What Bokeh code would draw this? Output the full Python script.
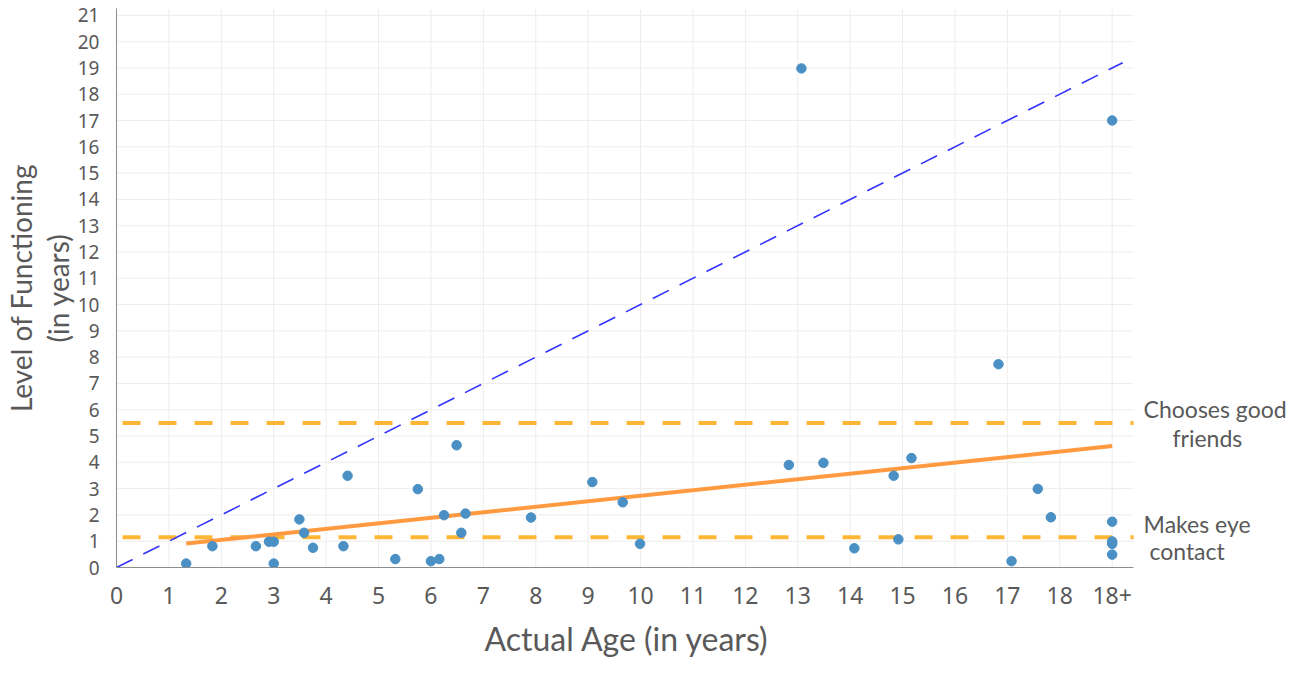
from bokeh.plotting import figure
from bokeh.models import Label, FixedTicker, Range1d, Title
from bokeh.embed import file_html
from bokeh.resources import INLINE

# ---- data ----
age = [1.33, 1.83, 2.66, 2.91, 3.0, 3.0, 3.49, 3.58, 3.75, 4.33, 4.41, 5.32, 5.75,
       6.0, 6.16, 6.25, 6.49, 6.58, 6.66, 7.91, 9.08, 9.66, 9.99, 12.83, 13.07,
       13.49, 14.08, 14.83, 14.92, 15.17, 16.83, 17.08, 17.58, 17.83,
       19.0, 19.0, 19.0, 19.0, 19.0]
functioning = [0.15, 0.81, 0.81, 0.98, 0.98, 0.15, 1.83, 1.32, 0.75, 0.81, 3.49, 0.32, 2.98,
               0.24, 0.32, 1.99, 4.65, 1.32, 2.05, 1.9, 3.25, 2.48, 0.9, 3.9, 18.98,
               3.98, 0.73, 3.49, 1.07, 4.16, 7.73, 0.24, 2.99, 1.91,
               17.0, 1.74, 0.99, 0.9, 0.49]
trend_x = [1.33, 19.0]
trend_y = [0.91, 4.62]
diag_x = [0.0, 19.2]
diag_y = [0.0, 19.2]
milestone_y = [5.5, 1.15]
milestone_lines = [["Chooses good", "friends"], ["Makes eye", "contact"]]
x_ticks = list(range(0, 20))
x_tick_labels = [str(i) for i in range(0, 19)] + ["18+"]
y_ticks = list(range(0, 22))
x_title = "Actual Age (in years)"
y_title = "Level of Functioning\n(in years)"

# ---- layout constants ----
X_MAX = 19.41      # right end of the plotting area (grid / axis)
Y_MAX = 21.26
GRAY = "#595959"

p = figure(width=1293, height=668, output_backend="svg", toolbar_location=None,
           x_range=Range1d(0, 22.46), y_range=Range1d(0, Y_MAX),
           min_border_left=116, min_border_right=0, min_border_top=8,
           min_border_bottom=101)
p.outline_line_color = None
p.background_fill_color = "white"
p.xgrid.visible = False
p.ygrid.visible = False

# grid lines limited to the data area
p.segment(x0=x_ticks, y0=[0] * len(x_ticks), x1=x_ticks, y1=[Y_MAX] * len(x_ticks),
          line_color="#ededed", line_width=1)
p.segment(x0=[0] * len(y_ticks), y0=y_ticks, x1=[X_MAX] * len(y_ticks), y1=y_ticks,
          line_color="#ededed", line_width=1)

p.xaxis.ticker = FixedTicker(ticks=x_ticks)
p.xaxis.major_label_overrides = {t: l for t, l in zip(x_ticks, x_tick_labels)}
p.xaxis.bounds = (0, X_MAX)
p.yaxis.ticker = FixedTicker(ticks=y_ticks)

for ax in (p.xaxis, p.yaxis):
    ax.major_tick_line_color = None
    ax.minor_tick_line_color = None
    ax.axis_line_color = "#8c8c8c"
    ax.major_label_text_font = "Noto Sans"
    ax.major_label_text_color = GRAY
    ax.axis_label_text_font = "Lato"
    ax.axis_label_text_font_style = "normal"
    ax.axis_label_text_color = GRAY

p.xaxis.major_label_text_font_size = "23px"
p.yaxis.major_label_text_font_size = "19px"
p.xaxis.major_label_standoff = 13
p.yaxis.major_label_standoff = 11
p.yaxis.axis_label = y_title
p.yaxis.axis_label_text_font_size = "28px"
p.yaxis.axis_label_text_line_height = 1.07
p.yaxis.axis_label_standoff = 0

# x-axis title, shifted to sit under the data area
p.add_layout(Title(text=x_title, align="left", offset=368, standoff=20,
                   text_font="Lato", text_font_size="32px", text_font_style="normal",
                   text_color=GRAY), "below")

# milestone lines
for yv in milestone_y:
    p.line([0, X_MAX], [yv, yv], line_color="#ffb637", line_width=4,
           line_dash="18 18", line_dash_offset=-6)

# diagonal reference
p.line(diag_x, diag_y, line_color="#3333ff", line_width=1.6, line_dash="18 12")

# trend line
p.line(trend_x, trend_y, line_color="#ff9a40", line_width=4)

# points
p.scatter(age, functioning, size=9.5, fill_color="#4a90c4", line_color="#4a90c4")

# milestone labels
label_pos = [[(19.6, 6.01), (20.15, 4.94)], [(19.6, 1.64), (19.71, 0.61)]]
for lines, poss in zip(milestone_lines, label_pos):
    for txt, (lx, ly) in zip(lines, poss):
        p.add_layout(Label(x=lx, y=ly, text=txt, text_font="Lato",
                           text_font_size="23px", text_color=GRAY,
                           text_baseline="middle", text_align="left"))

open("out.html", "w").write(file_html(p, INLINE))
